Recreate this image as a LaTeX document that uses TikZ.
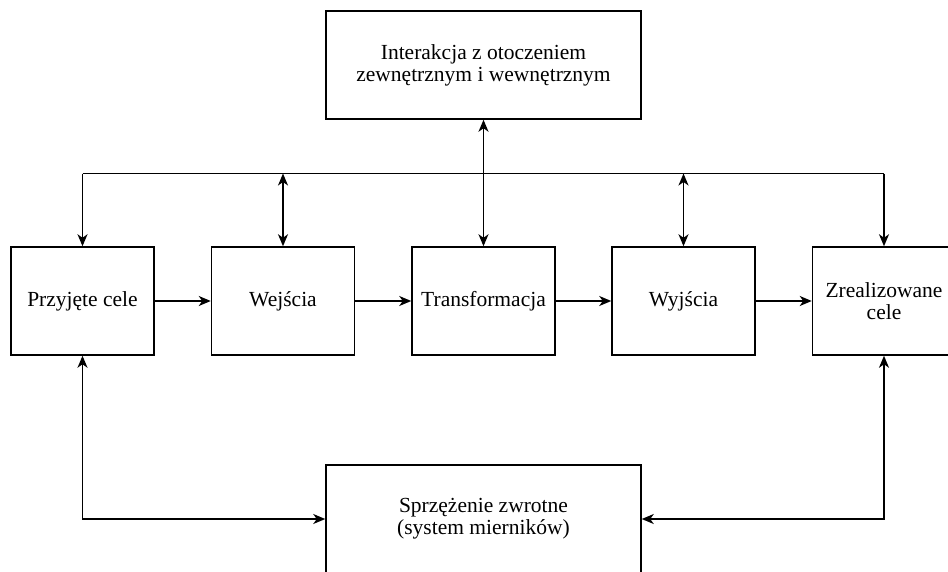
\documentclass[tikz,border=0pt]{standalone}
\usepackage{fontspec}
\setmainfont{Liberation Serif}
\usetikzlibrary{arrows.meta,positioning,calc}
\begin{document}
\begin{tikzpicture}[x=1pt,y=-1pt,
  tip/.tip={Stealth[length=12pt,width=10pt,inset=3.5pt]},
  box/.style={draw, line width=1.5pt, minimum width=143pt, minimum height=108pt,
    inner sep=0pt, align=center, font=\fontsize{21.5pt}{22pt}\selectfont},
  widebox/.style={box, minimum width=315pt},
  conn/.style={line width=1.5pt, -tip},
  both/.style={line width=1.5pt, tip-tip}
]
\useasboundingbox (0,0) rectangle (948,571);

% environment interaction
\node[widebox] (env) at (483.5,65) {Interakcja z otoczeniem\\zewnętrznym i wewnętrznym};

% main process chain
\node[box] (goals) at (82.5,301) {Przyjęte cele};
\node[box] (in)    at (283,301)  {Wejścia};
\node[box] (trans) at (483.5,301) {Transformacja};
\node[box] (out)   at (683.5,301) {Wyjścia};
\node[box] (done)  at (884,301)  {Zrealizowane\\cele};

% feedback
\node[widebox] (fb) at (483.5,519) {Sprzężenie zwrotne\\(system mierników)};

% chain arrows
\draw[conn] (goals) -- (in);
\draw[conn] (in) -- (trans);
\draw[conn] (trans) -- (out);
\draw[conn] (out) -- (done);

% distribution bus
\coordinate (busL) at (82.5,173.5);
\coordinate (busR) at (884,173.5);
\draw[line width=1.5pt] (busL) -- (busR);
\draw[conn] (busL) -- (goals.north);
\draw[conn] (busR) -- (done.north);
\draw[both] (in.north |- busL) -- (in.north);
\draw[both] (out.north |- busL) -- (out.north);
\draw[both] (env.south) -- (trans.north);

% feedback loop
\draw[both] (goals.south) |- (fb.west);
\draw[both] (done.south) |- (fb.east);
\end{tikzpicture}
\end{document}
